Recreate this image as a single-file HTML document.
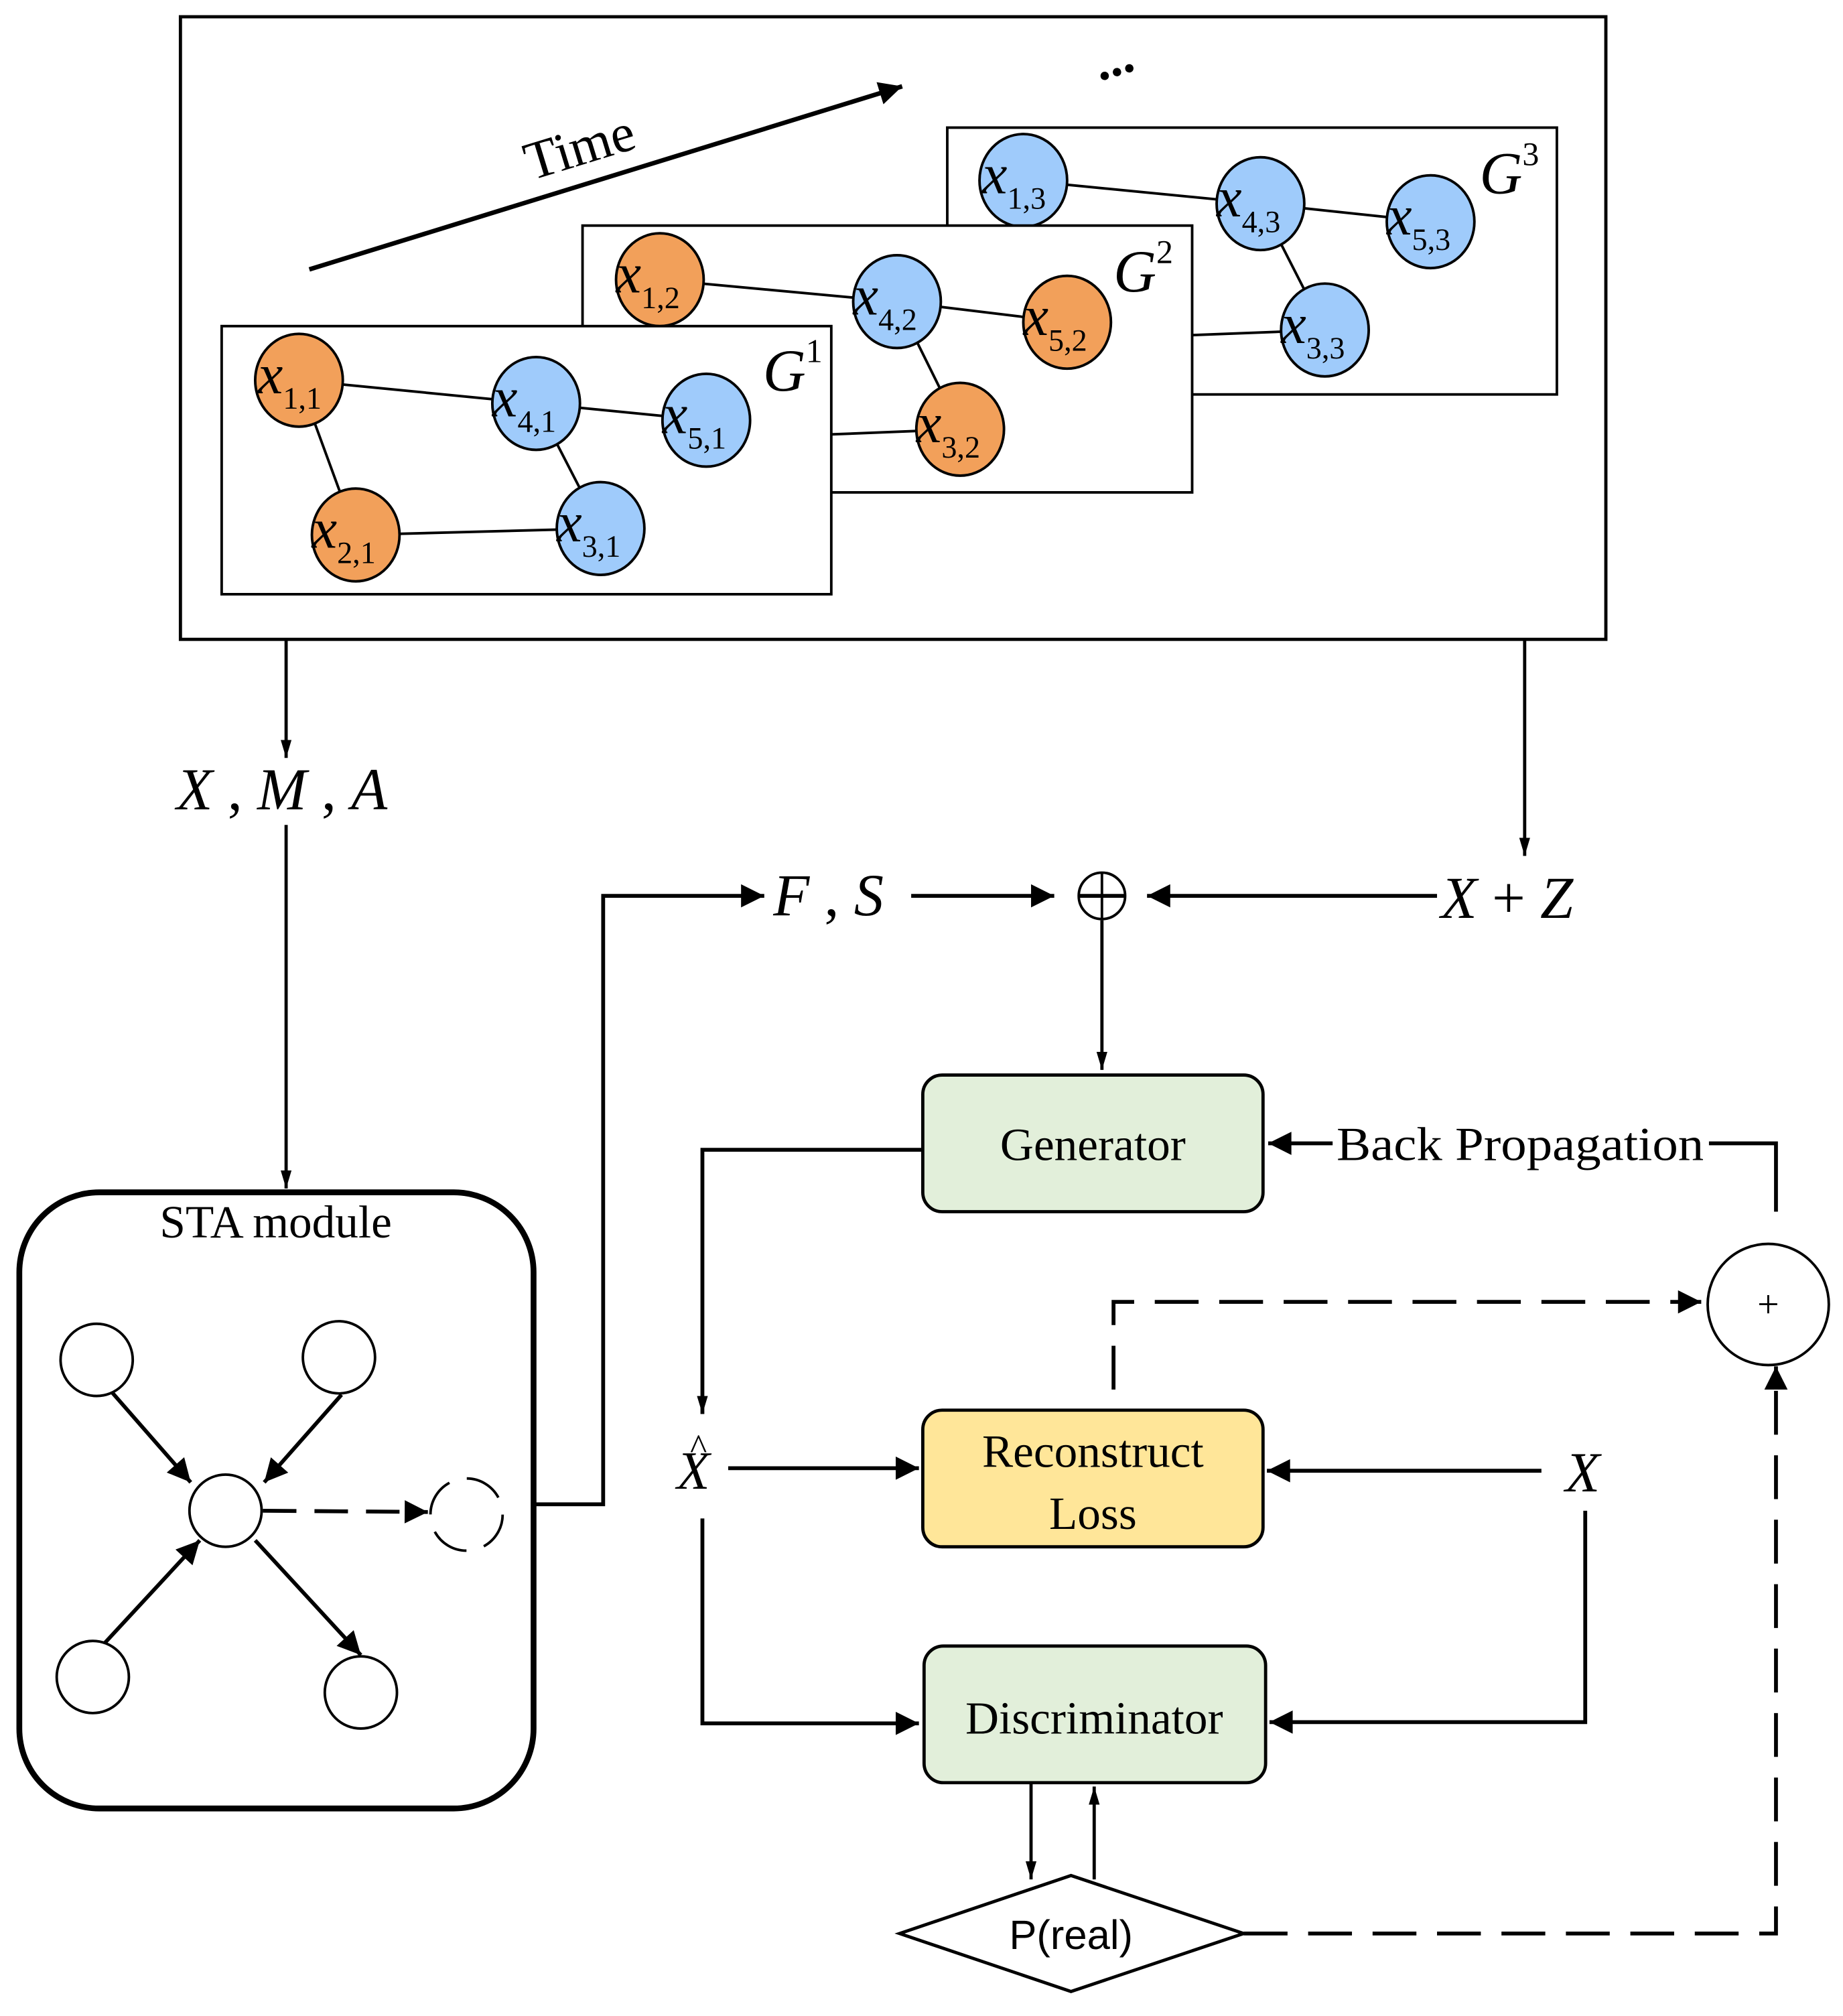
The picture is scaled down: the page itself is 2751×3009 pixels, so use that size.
<!DOCTYPE html>
<html><head><meta charset="utf-8">
<style>
html,body{margin:0;padding:0;background:#fff;}
svg{display:block;}
.m{font-family:"Liberation Serif",serif;font-style:italic;}
.t{font-family:"Liberation Serif",serif;}
</style></head>
<body>
<svg width="2751" height="3009" viewBox="0 0 1430 1564" preserveAspectRatio="none" xmlns="http://www.w3.org/2000/svg">
<defs>
<marker id="a" viewBox="0 0 10 10" refX="10" refY="5" markerWidth="28" markerHeight="18" markerUnits="userSpaceOnUse" orient="auto"><path d="M0,0 L10,5 L0,10 z" fill="#000"/></marker>
<marker id="s" viewBox="0 0 10 10" refX="10" refY="5" markerWidth="14" markerHeight="28" markerUnits="userSpaceOnUse" orient="auto"><path d="M0,2 L10,5 L0,8 z" fill="#000"/></marker>
</defs>
<rect x="140" y="13" width="1106" height="483" fill="#fff" stroke="#000" stroke-width="2.5"/>
<line x1="240" y1="209" x2="700" y2="67" stroke="#000" stroke-width="3.5" marker-end="url(#a)"/>
<text class="t" x="0" y="0" font-size="42" transform="translate(412,140) rotate(-17)">Time</text>
<text class="t" x="850" y="58" font-size="40" font-weight="bold" transform="rotate(-17 868 50)">...</text>

<!-- G3 -->
<rect x="735" y="99" width="473" height="207" fill="#fff" stroke="#000" stroke-width="2"/>
<g stroke="#000" stroke-width="2">
<line x1="794" y1="140" x2="978" y2="158"/><line x1="978" y1="158" x2="1110" y2="172"/><line x1="978" y1="158" x2="1028" y2="256"/>
</g>
<g stroke="#000" stroke-width="2" fill="#9fcbfb">
<ellipse cx="794" cy="140" rx="34" ry="36"/><ellipse cx="978" cy="158" rx="34" ry="36"/><ellipse cx="1110" cy="172" rx="34" ry="36"/>
</g>
<text class="m" x="1148" y="150" font-size="46">G<tspan font-size="26" dy="-22" font-style="normal">3</tspan></text>
<!-- G2 -->
<rect x="452" y="175" width="473" height="207" fill="#fff" stroke="#000" stroke-width="2"/>
<line x1="925" y1="260" x2="1028" y2="256" stroke="#000" stroke-width="2"/>
<ellipse cx="1028" cy="256" rx="34" ry="36" fill="#9fcbfb" stroke="#000" stroke-width="2"/>
<g stroke="#000" stroke-width="2">
<line x1="512" y1="217" x2="696" y2="234"/><line x1="696" y1="234" x2="828" y2="250"/><line x1="696" y1="234" x2="745" y2="333"/>
</g>
<g stroke="#000" stroke-width="2">
<ellipse cx="512" cy="217" rx="34" ry="36" fill="#f2a05a"/><ellipse cx="696" cy="234" rx="34" ry="36" fill="#9fcbfb"/><ellipse cx="828" cy="250" rx="34" ry="36" fill="#f2a05a"/>
</g>
<text class="m" x="864" y="226" font-size="46">G<tspan font-size="26" dy="-22" font-style="normal">2</tspan></text>
<!-- G1 -->
<rect x="172" y="253" width="473" height="208" fill="#fff" stroke="#000" stroke-width="2"/>
<line x1="645" y1="337" x2="745" y2="333" stroke="#000" stroke-width="2"/>
<ellipse cx="745" cy="333" rx="34" ry="36" fill="#f2a05a" stroke="#000" stroke-width="2"/>
<g stroke="#000" stroke-width="2">
<line x1="232" y1="295" x2="416" y2="313"/><line x1="416" y1="313" x2="548" y2="326"/><line x1="232" y1="295" x2="276" y2="415"/><line x1="416" y1="313" x2="466" y2="410"/><line x1="276" y1="415" x2="466" y2="410"/>
</g>
<g stroke="#000" stroke-width="2">
<ellipse cx="232" cy="295" rx="34" ry="36" fill="#f2a05a"/><ellipse cx="416" cy="313" rx="34" ry="36" fill="#9fcbfb"/><ellipse cx="548" cy="326" rx="34" ry="36" fill="#9fcbfb"/><ellipse cx="276" cy="415" rx="34" ry="36" fill="#f2a05a"/><ellipse cx="466" cy="410" rx="34" ry="36" fill="#9fcbfb"/>
</g>
<text class="m" x="592" y="303" font-size="46">G<tspan font-size="26" dy="-22" font-style="normal">1</tspan></text>

<!-- node labels -->
<g class="m" font-size="44">
<text x="762" y="150">x<tspan font-size="24" font-style="normal" dy="12">1,3</tspan></text>
<text x="944" y="168">x<tspan font-size="24" font-style="normal" dy="12">4,3</tspan></text>
<text x="1076" y="182">x<tspan font-size="24" font-style="normal" dy="12">5,3</tspan></text>
<text x="994" y="266">x<tspan font-size="24" font-style="normal" dy="12">3,3</tspan></text>
<text x="478" y="227">x<tspan font-size="24" font-style="normal" dy="12">1,2</tspan></text>
<text x="662" y="244">x<tspan font-size="24" font-style="normal" dy="12">4,2</tspan></text>
<text x="794" y="260">x<tspan font-size="24" font-style="normal" dy="12">5,2</tspan></text>
<text x="711" y="343">x<tspan font-size="24" font-style="normal" dy="12">3,2</tspan></text>
<text x="200" y="305">x<tspan font-size="24" font-style="normal" dy="12">1,1</tspan></text>
<text x="382" y="323">x<tspan font-size="24" font-style="normal" dy="12">4,1</tspan></text>
<text x="514" y="336">x<tspan font-size="24" font-style="normal" dy="12">5,1</tspan></text>
<text x="242" y="425">x<tspan font-size="24" font-style="normal" dy="12">2,1</tspan></text>
<text x="432" y="420">x<tspan font-size="24" font-style="normal" dy="12">3,1</tspan></text>
</g>

<!-- main connectors -->
<g stroke="#000" stroke-width="2.5" fill="none">
<line x1="222" y1="496" x2="222" y2="588" marker-end="url(#s)"/>
<line x1="222" y1="640" x2="222" y2="922" marker-end="url(#s)"/>
<line x1="1183" y1="496" x2="1183" y2="664" marker-end="url(#s)"/>
<polyline points="414,1167 468,1167 468,695 593,695" stroke-width="3" marker-end="url(#a)"/>
<line x1="707" y1="695" x2="818" y2="695" stroke-width="3" marker-end="url(#a)"/>
<line x1="1115" y1="695" x2="890" y2="695" stroke-width="3" marker-end="url(#a)"/>
<line x1="855" y1="714" x2="855" y2="830" marker-end="url(#s)"/>
<polyline points="1378,940 1378,887 1326,887" stroke-width="3"/>
<line x1="1034" y1="887" x2="984" y2="887" stroke-width="3" marker-end="url(#a)"/>
<polyline points="716,892 545,892 545,1097" stroke-width="3" marker-end="url(#s)"/>
<line x1="565" y1="1139" x2="713" y2="1139" stroke-width="3" marker-end="url(#a)"/>
<line x1="1196" y1="1141" x2="983" y2="1141" stroke-width="3" marker-end="url(#a)"/>
<polyline points="545,1178 545,1337 713,1337" stroke-width="3" marker-end="url(#a)"/>
<polyline points="1230,1172 1230,1336 985,1336" stroke-width="3" marker-end="url(#a)"/>
<line x1="800" y1="1384" x2="800" y2="1458" marker-end="url(#s)"/>
<line x1="849" y1="1458" x2="849" y2="1386" marker-end="url(#s)"/>
<polyline points="864,1078 864,1010 1320,1010" stroke-width="3" stroke-dasharray="34,16" marker-end="url(#a)"/>
<polyline points="965,1500 1378,1500 1378,1060" stroke-width="3" stroke-dasharray="34,16" marker-end="url(#a)"/>
</g>
<circle cx="855" cy="695" r="18" fill="#fff" stroke="#000" stroke-width="2"/>
<line x1="837" y1="695" x2="873" y2="695" stroke="#000" stroke-width="3"/>
<line x1="855" y1="677" x2="855" y2="713" stroke="#000" stroke-width="2"/>
<circle cx="1372" cy="1012" r="47" fill="#fff" stroke="#000" stroke-width="2"/>
<text class="t" x="1372" y="1022" font-size="30" text-anchor="middle">+</text>

<text class="m" x="137" y="628" font-size="46">X<tspan font-style="normal"> , </tspan>M<tspan font-style="normal"> , </tspan>A</text>
<text class="m" x="600" y="710" font-size="46">F<tspan font-style="normal"> , </tspan>S</text>
<text class="m" x="1118" y="712" font-size="46">X<tspan font-style="normal"> + </tspan>Z</text>

<rect x="716" y="834" width="264" height="106" rx="15" fill="#e2efda" stroke="#000" stroke-width="2.5"/>
<text class="t" x="848" y="900" font-size="36" text-anchor="middle">Generator</text>
<text class="t" x="1037" y="900" font-size="37" textLength="285" lengthAdjust="spacingAndGlyphs">Back Propagation</text>
<rect x="716" y="1094" width="264" height="106" rx="15" fill="#ffe699" stroke="#000" stroke-width="2.5"/>
<text class="t" x="848" y="1138" font-size="36" text-anchor="middle">Reconstruct</text>
<text class="t" x="848" y="1186" font-size="36" text-anchor="middle">Loss</text>
<rect x="717" y="1277" width="265" height="106" rx="15" fill="#e2efda" stroke="#000" stroke-width="2.5"/>
<text class="t" x="849" y="1345" font-size="36" text-anchor="middle">Discriminator</text>
<text class="m" x="538" y="1155" font-size="42" text-anchor="middle">X</text>
<text class="t" x="542" y="1132" font-size="28" text-anchor="middle">^</text>
<text class="m" x="1228" y="1157" font-size="44" text-anchor="middle">X</text>
<polygon points="698,1500 831,1455 965,1500 831,1545" fill="#fff" stroke="#000" stroke-width="2.5"/>
<text x="831" y="1512" font-size="32" text-anchor="middle" font-family="Liberation Sans, sans-serif">P(real)</text>

<!-- STA module -->
<rect x="15" y="925" width="399" height="478" rx="62" fill="#fff" stroke="#000" stroke-width="4.5"/>
<text class="t" x="214" y="960" font-size="36" text-anchor="middle">STA module</text>
<g stroke="#000" stroke-width="3" fill="none">
<line x1="85" y1="1078" x2="148" y2="1150" marker-end="url(#a)"/>
<line x1="265" y1="1082" x2="205" y2="1150" marker-end="url(#a)"/>
<line x1="80" y1="1276" x2="155" y2="1195" marker-end="url(#a)"/>
<line x1="198" y1="1195" x2="280" y2="1284" marker-end="url(#a)"/>
<line x1="204" y1="1172" x2="332" y2="1173" stroke-dasharray="26,14" marker-end="url(#a)"/>
</g>
<g stroke="#000" stroke-width="2" fill="#fff">
<circle cx="75" cy="1055" r="28"/><circle cx="263" cy="1053" r="28"/><circle cx="175" cy="1172" r="28"/><circle cx="72" cy="1301" r="28"/><circle cx="280" cy="1313" r="28"/>
</g>
<circle cx="362" cy="1175" r="28" fill="#fff" stroke="#000" stroke-width="2" stroke-dasharray="30,14"/>
</svg>
</body></html>
